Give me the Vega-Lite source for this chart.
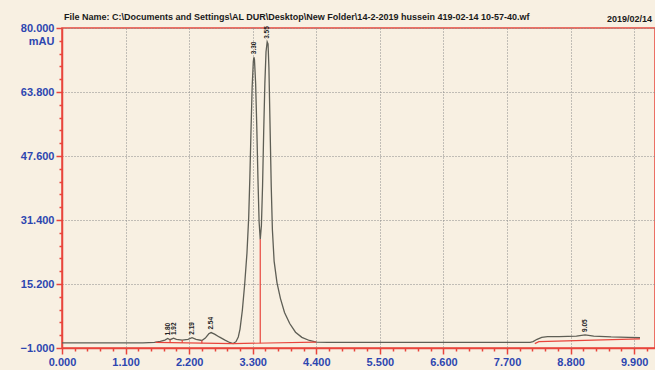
{
  "$schema": "https://vega.github.io/schema/vega-lite/v6.json",
  "autosize": {"type": "none"},
  "width": 593,
  "height": 320,
  "padding": {"left": 62, "top": 28, "right": 0, "bottom": 22},
  "background": "#f8f0e2",
  "title": {
    "text": "File Name: C:\\Documents and Settings\\AL DUR\\Desktop\\New Folder\\14-2-2019 hussein 419-02-14 10-57-40.wf",
    "anchor": "start",
    "frame": "group",
    "font": "Liberation Sans",
    "fontSize": 9,
    "fontWeight": "bold",
    "color": "#1a1a1a",
    "offset": 3,
    "dx": 2,
    "dy": 10
  },
  "datasets": {
    "trace": [
      {"t": 0.0, "v": 0.3}, {"t": 0.5, "v": 0.3}, {"t": 1.0, "v": 0.3}, {"t": 1.4, "v": 0.3},
      {"t": 1.6, "v": 0.4}, {"t": 1.7, "v": 0.7}, {"t": 1.78, "v": 1.0}, {"t": 1.83, "v": 1.4},
      {"t": 1.87, "v": 1.1}, {"t": 1.93, "v": 1.5}, {"t": 1.98, "v": 1.2}, {"t": 2.08, "v": 1.0},
      {"t": 2.18, "v": 1.2}, {"t": 2.25, "v": 1.6}, {"t": 2.32, "v": 1.2}, {"t": 2.42, "v": 0.9},
      {"t": 2.48, "v": 1.5}, {"t": 2.54, "v": 2.6}, {"t": 2.58, "v": 2.9}, {"t": 2.64, "v": 2.5},
      {"t": 2.72, "v": 1.8}, {"t": 2.82, "v": 1.0}, {"t": 2.9, "v": 0.4}, {"t": 2.96, "v": 0.1},
      {"t": 3.01, "v": 0.6}, {"t": 3.05, "v": 1.8}, {"t": 3.08, "v": 3.8}, {"t": 3.12, "v": 8.5},
      {"t": 3.16, "v": 15}, {"t": 3.2, "v": 23}, {"t": 3.23, "v": 32}, {"t": 3.25, "v": 42},
      {"t": 3.27, "v": 54}, {"t": 3.29, "v": 65}, {"t": 3.31, "v": 71.5}, {"t": 3.32, "v": 72.6},
      {"t": 3.33, "v": 72}, {"t": 3.35, "v": 66}, {"t": 3.37, "v": 55}, {"t": 3.39, "v": 42},
      {"t": 3.41, "v": 31}, {"t": 3.43, "v": 26.5}, {"t": 3.45, "v": 30}, {"t": 3.47, "v": 40},
      {"t": 3.49, "v": 54}, {"t": 3.51, "v": 66}, {"t": 3.53, "v": 74}, {"t": 3.55, "v": 76.5},
      {"t": 3.565, "v": 76}, {"t": 3.58, "v": 70}, {"t": 3.6, "v": 55}, {"t": 3.62, "v": 40},
      {"t": 3.64, "v": 29}, {"t": 3.67, "v": 21}, {"t": 3.72, "v": 15.5}, {"t": 3.78, "v": 11.5},
      {"t": 3.85, "v": 8}, {"t": 3.94, "v": 5.2}, {"t": 4.04, "v": 3.0}, {"t": 4.15, "v": 1.7},
      {"t": 4.28, "v": 0.9}, {"t": 4.4, "v": 0.5}, {"t": 4.6, "v": 0.4}, {"t": 5.0, "v": 0.4},
      {"t": 6.0, "v": 0.4}, {"t": 7.0, "v": 0.4}, {"t": 7.8, "v": 0.4}, {"t": 8.1, "v": 0.4},
      {"t": 8.15, "v": 0.6}, {"t": 8.22, "v": 1.2}, {"t": 8.3, "v": 1.7}, {"t": 8.4, "v": 1.9},
      {"t": 8.6, "v": 1.9}, {"t": 8.9, "v": 2.0}, {"t": 9.05, "v": 2.3}, {"t": 9.2, "v": 2.0},
      {"t": 9.5, "v": 1.8}, {"t": 9.8, "v": 1.7}, {"t": 10.0, "v": 1.6}
    ],
    "baseline": [
      {"seg": "a", "t": 1.62, "v": 0.4}, {"seg": "a", "t": 2.96, "v": 0.1},
      {"seg": "b", "t": 2.96, "v": 0.1}, {"seg": "b", "t": 4.4, "v": 0.5},
      {"seg": "c", "t": 8.18, "v": 0.1}, {"seg": "c", "t": 8.25, "v": 0.6}, {"seg": "c", "t": 10.0, "v": 1.3}
    ],
    "drops": [
      {"t": 1.87, "v0": 0.3, "v1": 1.1},
      {"t": 2.08, "v0": 0.3, "v1": 1.0},
      {"t": 2.42, "v0": 0.2, "v1": 0.9},
      {"t": 3.43, "v0": 0.2, "v1": 26.5}
    ],
    "peaks": [
      {"t": 1.83, "v": 1.4, "label": "1.80"},
      {"t": 1.93, "v": 1.5, "label": "1.92"},
      {"t": 2.25, "v": 1.6, "label": "2.19"},
      {"t": 2.58, "v": 2.9, "label": "2.54"},
      {"t": 3.32, "v": 72.6, "label": "3.30"},
      {"t": 3.55, "v": 76.5, "label": "3.55"},
      {"t": 9.05, "v": 2.3, "label": "9.05"}
    ],
    "header": [
      {"t": 9.43, "v": 80, "label": "2019/02/14"}
    ]
  },
  "layer": [
    {
      "data": {"name": "trace"},
      "mark": {"type": "line", "color": "#5e5e55", "strokeWidth": 1.3, "clip": true},
      "encoding": {
        "x": {
          "field": "t", "type": "quantitative",
          "scale": {"domain": [0, 10.26], "nice": false, "zero": false},
          "axis": {
            "orient": "bottom",
            "values": [0, 1.1, 2.2, 3.3, 4.4, 5.5, 6.6, 7.7, 8.8, 9.9],
            "format": ".3f",
            "title": null,
            "domainColor": "#e8453c", "domainWidth": 1.5,
            "tickColor": "#e8453c", "tickSize": 6, "tickWidth": 1.5,
            "labelColor": "#2d46b0", "labelFont": "Liberation Sans", "labelFontSize": 11, "labelFontWeight": "bold",
            "labelPadding": 2, "labelFlush": false,
            "grid": true, "gridColor": "#8a8a8a", "gridDash": [1, 2], "gridWidth": 1
          }
        },
        "y": {
          "field": "v", "type": "quantitative",
          "scale": {"domain": [-1, 80], "nice": false, "zero": false},
          "axis": {
            "orient": "left",
            "values": [-1, 15.2, 31.4, 47.6, 63.8, 80],
            "format": ".3f",
            "title": "mAU",
            "titleAngle": 0, "titleAlign": "right", "titleBaseline": "middle",
            "titleX": -8, "titleY": 13,
            "titleColor": "#2d46b0", "titleFont": "Liberation Sans", "titleFontSize": 11, "titleFontWeight": "bold",
            "domainColor": "#e8453c", "domainWidth": 1.5,
            "tickColor": "#e8453c", "tickSize": 6, "tickWidth": 1.5,
            "labelColor": "#2d46b0", "labelFont": "Liberation Sans", "labelFontSize": 11, "labelFontWeight": "bold",
            "labelPadding": 2, "labelFlush": false,
            "grid": true, "gridColor": "#8a8a8a", "gridDash": [1, 2], "gridWidth": 1
          }
        }
      }
    },
    {
      "data": {"name": "baseline"},
      "mark": {"type": "line", "color": "#e8453c", "strokeWidth": 1.2},
      "encoding": {
        "detail": {"field": "seg"},
        "x": {
          "field": "t", "type": "quantitative",
          "axis": {
            "orient": "bottom",
            "values": [0.22, 0.44, 0.66, 0.88, 1.32, 1.54, 1.76, 1.98, 2.42, 2.64, 2.86, 3.08, 3.52, 3.74, 3.96, 4.18, 4.62, 4.84, 5.06, 5.28, 5.72, 5.94, 6.16, 6.38, 6.82, 7.04, 7.26, 7.48, 7.92, 8.14, 8.36, 8.58, 9.02, 9.24, 9.46, 9.68, 10.12],
            "labels": false, "title": null, "domain": false, "grid": false,
            "tickColor": "#e8453c", "tickSize": 3, "tickWidth": 1.5
          }
        },
        "y": {
          "field": "v", "type": "quantitative",
          "axis": {
            "orient": "left",
            "values": [2.24, 5.48, 8.72, 11.96, 18.44, 21.68, 24.92, 28.16, 34.64, 37.88, 41.12, 44.36, 50.84, 54.08, 57.32, 60.56, 67.04, 70.28, 73.52, 76.76],
            "labels": false, "title": null, "domain": false, "grid": false,
            "tickColor": "#e8453c", "tickSize": 3, "tickWidth": 1.5
          }
        }
      }
    },
    {
      "data": {"name": "drops"},
      "mark": {"type": "rule", "color": "#e8453c", "strokeWidth": 1.2},
      "encoding": {
        "x": {"field": "t", "type": "quantitative", "axis": null},
        "y": {"field": "v0", "type": "quantitative", "axis": null},
        "y2": {"field": "v1"}
      }
    },
    {
      "data": {"name": "peaks"},
      "mark": {"type": "text", "angle": 270, "align": "left", "baseline": "middle", "dx": 3, "font": "Liberation Sans", "fontSize": 6.5, "fontWeight": "bold", "color": "#222222"},
      "encoding": {
        "x": {"field": "t", "type": "quantitative", "axis": null},
        "y": {"field": "v", "type": "quantitative", "axis": null},
        "text": {"field": "label"}
      }
    },
    {
      "data": {"name": "header"},
      "mark": {"type": "text", "align": "left", "baseline": "bottom", "dy": -4, "font": "Liberation Sans", "fontSize": 9, "fontWeight": "bold", "color": "#1a1a1a", "clip": false},
      "encoding": {
        "x": {"field": "t", "type": "quantitative", "axis": null},
        "y": {"field": "v", "type": "quantitative", "axis": null},
        "text": {"field": "label"}
      }
    }
  ],
  "resolve": {"axis": {"x": "independent", "y": "independent"}},
  "config": {
    "view": {"stroke": "#e8453c", "strokeWidth": 1.5}
  }
}
